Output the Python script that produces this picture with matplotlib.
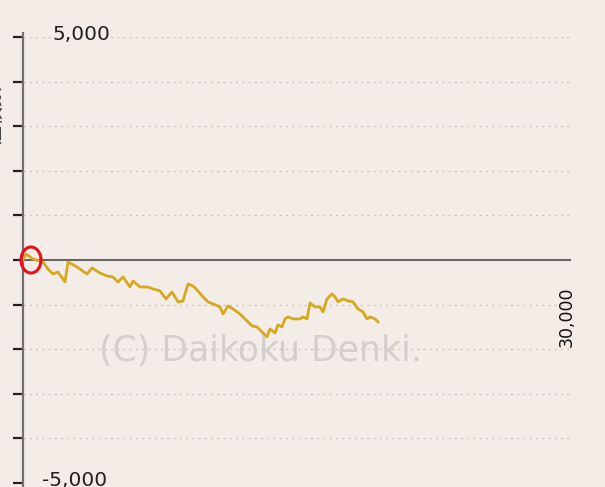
import matplotlib
matplotlib.use("Agg")
import matplotlib.pyplot as plt
from matplotlib.patches import Ellipse

# data: game count vs. coin difference
games = [0, 164, 547, 1095, 1369, 1642, 1916, 2299, 2464, 2956, 3503, 3777, 4215, 4598,
         4927, 5201, 5474, 5858, 6022, 6405, 6843, 7117, 7500, 7829, 8157, 8485, 8759,
         9033, 9306, 9580, 9854, 10128, 10401, 10785, 10949, 11222, 11496, 11880, 12263,
         12536, 12810, 13084, 13358, 13522, 13796, 13960, 14179, 14343, 14507, 14781,
         15164, 15328, 15547, 15712, 15985, 16259, 16423, 16642, 16916, 17080, 17245,
         17518, 17792, 18066, 18339, 18613, 18832, 18996, 19270, 19434]
diff = [0, 134, 22, -45, -202, -314, -269, -492, -45, -157, -314, -179, -291, -358,
        -381, -493, -381, -605, -470, -605, -605, -649, -694, -873, -717, -940, -918,
        -537, -582, -694, -829, -940, -985, -1052, -1209, -1030, -1097, -1209, -1366,
        -1478, -1500, -1612, -1724, -1545, -1634, -1455, -1500, -1321, -1276, -1321,
        -1321, -1276, -1321, -963, -1052, -1052, -1164, -873, -761, -828, -940, -873,
        -918, -940, -1097, -1164, -1321, -1276, -1321, -1388]
y_ticks = list(range(-5000, 5001, 1000))
top_label = "5,000"
bottom_label = "-5,000"
x_label = "30,000"
watermark = "(C) Daikoku Denki."

W, H = 605, 487
bg = "#F4ECE7"
fig = plt.figure(figsize=(W / 100, H / 100), dpi=100, facecolor=bg)
ax = fig.add_axes([23 / W, (H - 483) / H, 548 / W, 446 / H], facecolor=bg)
ax.set_xlim(0, 30000)
ax.set_ylim(-5000, 5000)

for s in ["top", "right", "bottom"]:
    ax.spines[s].set_visible(False)
ax.spines["left"].set_color("#707070")
ax.spines["left"].set_linewidth(1.6)
ax.spines["left"].set_bounds(-5200, 5080)

ax.set_yticks(y_ticks)
ax.set_yticklabels([])
ax.set_xticks([])
ax.tick_params(axis="y", direction="out", length=7.5, width=1.6, color="#222222")

for v in y_ticks:
    if v != 0:
        ax.axhline(v, color="#c8c4c1", lw=1.0, ls=(0, (1.5, 3)), zorder=1)
ax.axhline(0, color="#666666", lw=1.5, zorder=2)

ax.plot(games, diff, color="#D6A81E", lw=2.0, zorder=3, solid_joinstyle="round")

ax.text(1590, 5045, top_label, fontsize=14.5, color="#222222", va="center", ha="left",
        clip_on=False, zorder=4)
ax.text(1040, -4950, bottom_label, fontsize=14.5, color="#222222", va="center", ha="left",
        clip_on=False, zorder=4)
ax.text(29750, -1280, x_label, fontsize=12.5, color="#111111", rotation=90,
        va="center", ha="center", clip_on=False, zorder=4)

ax.text(237 / 548 * 30000, -2050, watermark, fontsize=25,
        color="#d3cfcc", va="center", ha="center", zorder=2.5)

ax.add_patch(Ellipse((8 * 30000 / 548, 0), 20 * 30000 / 548, 26 * 10000 / 446,
                     fill=False, edgecolor="#e8101a", lw=2.2, zorder=5, clip_on=False))

fig.text(-5.5 / W, 1 - 115 / H, "差枚数", rotation=90, fontsize=14, color="#444444",
         family=["Noto Sans CJK JP", "DejaVu Sans"], va="center", ha="center")

fig.savefig("out.png", dpi=100, facecolor=bg)
